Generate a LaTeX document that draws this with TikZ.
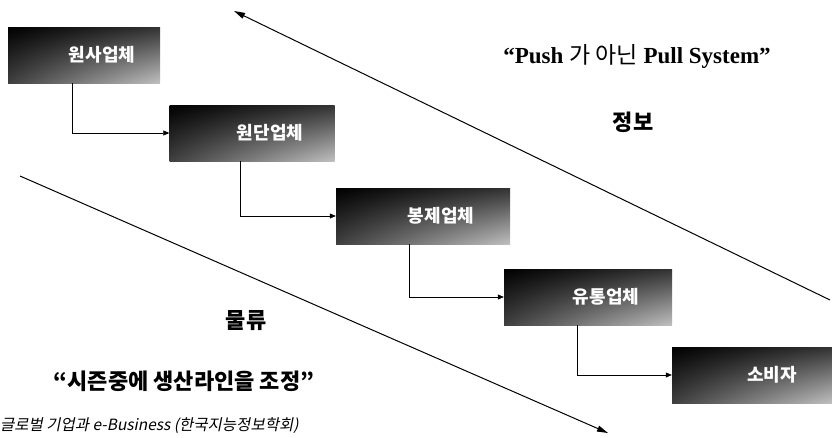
\documentclass[tikz,border=0pt]{standalone}
\usepackage{fontspec}
\setmainfont{Liberation Serif}
\newfontfamily\kr{Noto Sans CJK KR}
\newfontfamily\krit[FakeSlant=0.2]{Noto Sans CJK KR}
\usetikzlibrary{arrows.meta,shadings}
\begin{document}
\begin{tikzpicture}[x=1pt,y=-1pt,
  stagebox/.style={minimum width=#1, minimum height=56pt, inner sep=0pt,
    upper left=black, upper right=black!80, lower left=black!75, lower right=black!25,
    text=white, font=\kr\bfseries\fontsize{18}{18}\selectfont},
  stagebox/.default=168pt,
  flow/.style={-{Triangle[length=6pt,width=5pt]}, line width=0.6pt},
  bigarrow/.style={-{Triangle[length=11pt,width=6pt]}, line width=1pt},
  lbl/.style={font=\kr\bfseries\fontsize{22}{22}\selectfont, inner sep=0pt}]
\useasboundingbox (0,0) rectangle (832,437);
\node[stagebox=152pt] (b1) at (84,55) {\hspace*{36pt}원사업체};
\node[stagebox=165pt] (b2) at (252,133) {\hspace*{36pt}원단업체};
\node[stagebox=174pt] (b3) at (423,216) {\hspace*{36pt}봉제업체};
\node[stagebox] (b4) at (588,297) {\hspace*{36pt}유통업체};
\node[stagebox=160pt] (b5) at (752,375) {\hspace*{40pt}소비자};
\coordinate (c1) at (72,133);
\coordinate (c2) at (240,216);
\coordinate (c3) at (409,297);
\coordinate (c4) at (577,375);
\draw[flow] (c1 |- b1.south) -- (c1) -- (b2.west);
\draw[flow] (c2 |- b2.south) -- (c2) -- (b3.west);
\draw[flow] (c3 |- b3.south) -- (c3) -- (b4.west);
\draw[flow] (c4 |- b4.south) -- (c4) -- (b5.west);
\coordinate (u1) at (830,300);
\coordinate (u2) at (234,11);
\coordinate (l1) at (20,176);
\coordinate (l2) at (608,433);
\draw[bigarrow] (u1) -- (u2);
\draw[bigarrow] (l1) -- (l2);
\node[font=\bfseries\fontsize{23}{23}\selectfont] (push) at (637,56) {“Push {\kr\mdseries 가 아닌} Pull System”};
\node[lbl] (info) at (633,122) {정보};
\node[lbl] (logi) at (246,321) {물류};
\node[font=\kr\bfseries\fontsize{22}{22}\selectfont] (season) at (184,381) {“시즌중에 생산라인을 조정”};
\node[anchor=west, inner sep=0pt, font=\krit\fontsize{15.5}{15.5}\selectfont] (src) at (0,426) {글로벌 기업과 e-Business (한국지능정보학회)};
\end{tikzpicture}
\end{document}
